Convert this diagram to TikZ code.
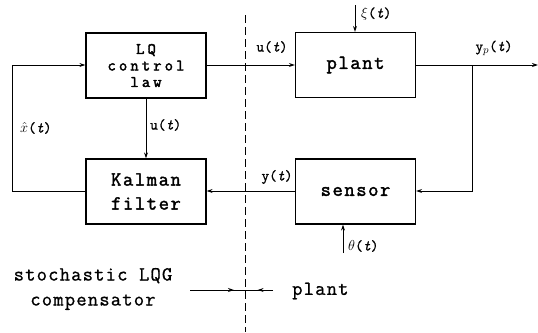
\documentclass[tikz,border=0pt]{standalone}
\usepackage{fontspec}
\setmonofont{Latin Modern Mono}
\usetikzlibrary{arrows.meta,decorations.markings}
\begin{document}
\begin{tikzpicture}[x=1pt,y=-1pt,
  blk/.style={draw,line width=1.2pt,minimum width=120pt,minimum height=65pt,inner sep=0pt,font=\ttfamily\fontsize{20}{24}\selectfont\addfontfeature{LetterSpace=8,FakeBold=2},align=center},
  conn/.style={line width=1pt,-{Stealth[length=6pt,width=4pt]}},
  lbl/.style={font=\ttfamily\fontsize{15}{15}\selectfont\addfontfeature{FakeBold=1},inner sep=0pt},
  txt/.style={font=\ttfamily\fontsize{20}{25}\selectfont\addfontfeature{LetterSpace=6,FakeBold=1},inner sep=0pt,align=center},
  midarrow/.style={line width=1pt,postaction={decorate},decoration={markings,mark=at position #1 with {\arrow{Stealth[length=6pt,width=4pt]}}}}
]
\useasboundingbox (0,0) rectangle (538,332);
\node[blk,font=\ttfamily\fontsize{16}{16.5}\selectfont\addfontfeature{LetterSpace=20,FakeBold=2.5}] (lq) at (146,65.5) {LQ\\control\\law};
\node[blk] (kf) at (146,191.5) {Kalman\\filter};
\node[blk] (pl) at (355.5,65) {plant};
\node[blk] (se) at (355.5,191.5) {sensor};
% dashed separator
\coordinate (dtop) at (245,15);
\coordinate (dbot) at (245,332);
\draw[line width=1pt,dash pattern=on 8pt off 4pt] (dtop) -- (dbot);
% feedback x-hat
\coordinate (fl1) at (12,191);
\coordinate (fl2) at (12,65);
\draw[conn] (kf.west |- 0,191) -- (fl1) -- (fl2) -- (lq.west |- 0,65);
\node[lbl,anchor=west] (xh) at (20,128) {$\hat{x}$({\itshape t})};
% u vertical
\draw[conn] (lq.south) -- (kf.north);
\node[lbl,anchor=west] (u2) at (150,125) {u({\itshape t})};
% u to plant
\draw[conn] (lq.east |- 0,65) -- (pl.west |- 0,65);
\node[lbl] (u1) at (272,47) {u({\itshape t})};
% xi
\coordinate (xis) at (355,5);
\draw[conn] (xis) -- (pl.north -| 355,0);
\node[lbl,anchor=west] (xil) at (361,14) {$\xi$({\itshape t})};
% output
\coordinate (yout) at (538,65);
\coordinate (br) at (472,65);
\coordinate (br2) at (472,191);
\draw[conn] (pl.east |- 0,65) -- (yout);
\draw[conn] (br) -- (br2) -- (se.east |- 0,191);
\node[lbl] (yp) at (494,48) {y$_{p}$({\itshape t})};
% sensor to kalman
\draw[conn] (se.west |- 0,191) -- (kf.east |- 0,191);
\node[lbl] (yl) at (277,177) {y({\itshape t})};
% theta
\coordinate (ths) at (343,253);
\draw[conn] (ths) -- (se.south -| 343,0);
\node[lbl,anchor=west] (thl) at (348,246) {$\theta$({\itshape t})};
% bottom legend
\node[txt] (comp) at (93,289) {stochastic LQG\\compensator};
\node[txt,anchor=west] (plb) at (292,291) {plant};
\coordinate (la) at (190,290);
\coordinate (lm) at (245,290);
\coordinate (lb) at (273,290);
\draw[midarrow=0.8] (la) -- (lm);
\draw[midarrow=0.55] (lb) -- (lm);
\end{tikzpicture}
\end{document}
